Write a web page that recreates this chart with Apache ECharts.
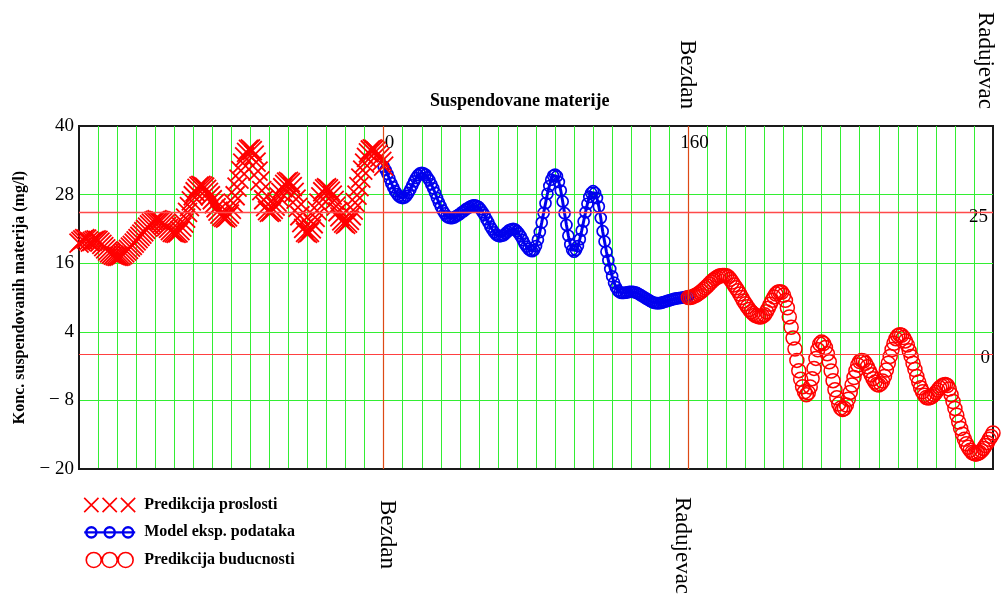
<!DOCTYPE html>
<html>
<head>
<meta charset="utf-8">
<script src="https://cdn.jsdelivr.net/npm/echarts@6/dist/echarts.min.js"></script>
<style>html,body{margin:0;padding:0;background:#fff}#c{width:1003px;height:604px}</style>
</head>
<body>
<div id="c"></div>
<script>
// ---------------- data ----------------
const chartTitle = 'Suspendovane materije';
const yAxisName = 'Konc. suspendovanih materija (mg/l)';
const seriesNames = ['Predikcija proslosti', 'Model eksp. podataka', 'Predikcija buducnosti'];

// x positions: each series starts at its first x, one unit per value
const pastStartX = -160;
const pastValues = [
  19.5,19.8,20.1,20.3,20.2,19.9,19.7,19.8,20.0,20.1,20.0,19.7,19.3,18.9,18.5,18.1,17.8,17.6,17.4,17.3,17.2,17.2,
  17.3,17.5,17.8,18.1,18.4,18.8,19.1,19.5,19.9,20.3,20.7,21.1,21.5,21.9,22.3,22.7,23.0,23.3,23.5,23.6,
  23.5,23.4,23.1,22.8,22.4,22.1,21.7,21.4,21.3,21.2,
  21.3,21.7,22.3,23.0,23.9,24.9,25.9,26.9,27.8,28.5,29.1,29.5,29.6,
  29.5,29.3,28.9,28.4,27.8,27.1,26.4,25.7,25.1,24.6,24.2,24.0,23.9,
  24.1,24.6,25.4,26.5,27.8,29.3,30.7,32.2,33.5,34.6,35.4,35.9,36.0,
  35.7,34.9,33.7,32.1,30.4,28.7,27.1,25.9,25.2,24.9,
  25.0,25.4,26.0,26.7,27.6,28.4,29.2,29.8,30.2,30.3,
  30.1,29.4,28.4,27.2,25.75,24.3,23.1,22.1,21.4,21.2,
  21.4,22.0,22.9,24.0,25.2,26.5,27.6,28.5,29.0,29.2,
  29.0,28.6,27.9,27.0,26.0,25.0,24.1,23.4,23.0,22.8,
  23.0,23.5,24.3,25.3,26.6,27.9,29.4,30.9,32.3,33.5,34.5,35.3,35.8,36.0,
  35.9,35.6,35.1,34.5,33.8,33.0
];

const modelStartX = 0;
const modelValues = [
  32.9,32.3,31.6,30.8,30.0,29.3,28.6,28.1,27.7,27.5,27.4,
  27.5,27.8,28.3,28.9,29.6,30.3,30.9,31.4,31.7,31.8,
  31.7,31.5,31.0,30.5,29.8,29.1,28.3,27.4,26.6,25.9,25.2,24.7,24.2,24.0,23.9,
  23.9,24.0,24.2,24.4,24.6,24.9,25.1,25.4,25.6,25.8,26.0,26.1,26.1,
  26.0,25.8,25.4,24.9,24.4,23.7,23.1,22.4,21.9,21.4,21.0,20.8,20.7,
  20.8,20.9,21.2,21.5,21.8,21.9,22.0,
  21.9,21.6,21.2,20.7,20.05,19.4,18.9,18.5,18.2,18.1,
  18.3,19.0,20.1,21.45,23.1,24.8,26.5,28.15,29.5,30.6,31.3,31.5,
  31.2,30.2,28.7,26.8,24.75,22.7,20.8,19.3,18.3,18.0,
  18.3,19.0,20.2,21.7,23.3,24.9,26.4,27.6,28.3,28.6,
  28.3,27.4,25.9,23.9,21.6,19.8,18.0,16.5,15.0,13.7,12.6,11.8,11.2,10.9,10.8,
  10.8,10.85,10.9,11.0,11.0,11.0,10.9,10.8,10.6,10.4,10.2,10.0,9.8,9.6,9.4,9.2,9.1,9.0,9.0,9.0,
  9.1,9.2,9.3,9.4,9.5,9.6,9.7,9.8,9.85,9.9,9.95,10.0,10.05,10.1,10.2
];

const futureStartX = 160;
const futureValues = [
  10.0,10.0,10.1,10.25,10.4,10.6,10.85,11.1,11.4,11.7,12.0,12.35,12.7,13.0,13.3,13.5,13.7,13.8,13.85,13.85,
  13.8,13.6,13.2,12.7,12.2,11.7,11.2,10.6,10.0,9.4,8.9,8.4,7.9,7.5,7.2,6.9,6.75,6.65,6.6,
  6.7,7.0,7.5,8.1,8.8,9.5,10.1,10.6,10.9,11.0,
  10.9,10.4,9.5,8.2,6.6,4.8,2.9,1.0,-1.0,-2.8,-4.3,-5.6,-6.5,-7.0,
  -6.65,-5.65,-4.2,-2.4,-0.65,0.85,1.85,2.2,
  1.95,1.25,0.15,-1.25,-2.85,-4.55,-6.15,-7.55,-8.65,-9.35,-9.6,
  -9.4,-8.8,-7.8,-6.6,-5.3,-4.0,-2.8,-1.8,-1.2,-1.0,
  -1.1,-1.5,-2.1,-2.8,-3.5,-4.2,-4.8,-5.2,-5.3,
  -5.1,-4.6,-3.8,-2.7,-1.5,-0.3,0.9,2.0,2.8,3.3,3.5,
  3.4,3.0,2.4,1.7,0.7,-0.3,-1.5,-2.6,-3.8,-4.8,-5.8,-6.5,-7.1,-7.5,-7.6,
  -7.5,-7.3,-7.0,-6.6,-6.2,-5.8,-5.5,-5.3,-5.2,
  -5.4,-6.0,-7.0,-8.2,-9.4,-10.6,-11.8,-12.9,-13.9,-14.8,-15.6,-16.2,-16.7,-17.1,-17.3,-17.4,
  -17.3,-17.1,-16.8,-16.4,-15.9,-15.4,-14.8,-14.3,-13.7
];

// reference lines and their labels
const refLineX = [0, 160];
const refLineY = [25, 0];
const topPlaceNames = ['Bezdan', 'Radujevac'];
const topPlaceX = [160, 320];
const bottomPlaceNames = ['Bezdan', 'Radujevac'];
const bottomPlaceX = [0, 160];

// axis ranges
const xMin = -160, xMax = 320, xStep = 10;
const yMin = -20, yMax = 40, yStep = 12;

// ---------------- chart ----------------
const serif = "'Liberation Serif', 'Times New Roman', serif";
const toPairs = (start, vals) => vals.map((v, i) => [start + i, v]);

const crossPath = 'path://M0,0L10,10M10,0L0,10';
const crossIcon = 'path://M0,0L14,14M14,0L0,14M18,0L32,14M32,0L18,14M36,0L50,14M50,0L36,14';
const blueIcon = 'path://M0,0M50,14M0,7L50,7M2,7A5,5,0,1,1,12,7A5,5,0,1,1,2,7ZM20,7A5,5,0,1,1,30,7A5,5,0,1,1,20,7ZM38,7A5,5,0,1,1,48,7A5,5,0,1,1,38,7Z';
const circleIcon = 'path://M0,8A8,8,0,1,1,16,8A8,8,0,1,1,0,8ZM17,8A8,8,0,1,1,33,8A8,8,0,1,1,17,8ZM34,8A8,8,0,1,1,50,8A8,8,0,1,1,34,8Z';

const green = '#33ee33';
const chart = echarts.init(document.getElementById('c'));

const option = {
  animation: false,
  backgroundColor: '#ffffff',
  title: {
    text: chartTitle, left: 430, top: 92, padding: 0,
    textStyle: { fontFamily: serif, fontSize: 18, fontWeight: 'bold', color: '#000' }
  },
  grid: {
    left: 79, right: 10, top: 126, bottom: 135,
    show: true, borderColor: '#1a1a1a', borderWidth: 2, backgroundColor: 'transparent'
  },
  xAxis: {
    type: 'value', min: xMin, max: xMax, interval: xStep,
    axisLine: { show: true, onZero: false, lineStyle: { color: '#1a1a1a', width: 2 } },
    axisTick: { show: false },
    axisLabel: { show: false },
    splitLine: { show: true, showMinLine: false, showMaxLine: false, lineStyle: { color: green, width: 1 } }
  },
  yAxis: {
    type: 'value', min: yMin, max: yMax, interval: yStep,
    name: yAxisName, nameLocation: 'middle', nameGap: 51, nameRotate: 90,
    nameTextStyle: { fontFamily: serif, fontSize: 16, fontWeight: 'bold', color: '#000' },
    axisLine: { show: true, onZero: false, lineStyle: { color: '#1a1a1a', width: 2 } },
    axisTick: { show: false },
    axisLabel: {
      margin: 5, fontFamily: serif, fontSize: 19, color: '#000',
      formatter: v => (v < 0 ? '\u2212 ' + Math.abs(v) : String(v))
    },
    splitLine: { show: true, showMinLine: false, showMaxLine: false, lineStyle: { color: green, width: 1 } }
  },
  legend: {
    orient: 'vertical', left: 83, top: 497, padding: 0,
    itemWidth: 51, itemHeight: 15, itemGap: 11,
    selectedMode: false,
    textStyle: { fontFamily: serif, fontSize: 16, fontWeight: 'bold', color: '#000', padding: [0, 0, 0, 4] },
    data: [
      { name: seriesNames[0], icon: crossIcon, itemStyle: { color: 'rgba(0,0,0,0)', borderColor: '#ff0000', borderWidth: 1.6 } },
      { name: seriesNames[1], icon: blueIcon, itemStyle: { color: 'rgba(0,0,0,0)', borderColor: '#0000ee', borderWidth: 2.4 } },
      { name: seriesNames[2], icon: circleIcon, itemStyle: { color: 'rgba(0,0,0,0)', borderColor: '#ff0000', borderWidth: 1.6 } }
    ]
  },
  series: [
    {
      name: seriesNames[0], type: 'scatter',
      data: toPairs(pastStartX, pastValues),
      symbol: crossPath, symbolSize: 19,
      itemStyle: { color: 'rgba(0,0,0,0)', borderColor: '#ff0000', borderWidth: 1.8, opacity: 1 },
      emphasis: { disabled: true }, z: 3
    },
    {
      name: seriesNames[1], type: 'line',
      data: toPairs(modelStartX, modelValues),
      showSymbol: true, showAllSymbol: true, symbol: 'circle', symbolSize: 11,
      itemStyle: { color: 'rgba(0,0,0,0)', borderColor: '#0000ee', borderWidth: 1.7 },
      lineStyle: { color: '#0000ee', width: 3 },
      emphasis: { disabled: true }, z: 2,
      markLine: {
        silent: true, symbol: 'none', label: { show: false },
        data: [
          { xAxis: refLineX[0], lineStyle: { color: '#dd4a14', width: 1.2, type: 'solid' } },
          { xAxis: refLineX[1], lineStyle: { color: '#dd4a14', width: 1.2, type: 'solid' } },
          { yAxis: refLineY[0], lineStyle: { color: '#ff4a4a', width: 1.4, type: 'solid' } },
          { yAxis: refLineY[1], lineStyle: { color: '#ff4040', width: 1.2, type: 'solid' } }
        ]
      }
    },
    {
      name: seriesNames[2], type: 'scatter',
      data: toPairs(futureStartX, futureValues),
      symbol: 'circle', symbolSize: 14,
      itemStyle: { color: 'rgba(0,0,0,0)', borderColor: '#ff0000', borderWidth: 1.5, opacity: 1 },
      emphasis: { disabled: true }, z: 4
    }
  ]
};
chart.setOption(option);

// text annotations placed via the chart's own scales
const px = (x, y) => chart.convertToPixel({ gridIndex: 0 }, [x, y]);
const placeFont = '23px ' + serif;
const tickFont = '19px ' + serif;
const g = [];
const topDx = [-1.5, -8];
topPlaceX.forEach((x, i) => {
  const p = px(x, 0);
  g.push({ type: 'text', x: p[0] + topDx[i], y: 109, rotation: -Math.PI / 2,
    style: { text: topPlaceNames[i], font: placeFont, fill: '#000', align: 'right', verticalAlign: 'middle' } });
});
const botDx = [3, -6];
const botY = [500, 497];
bottomPlaceX.forEach((x, i) => {
  const p = px(x, 0);
  g.push({ type: 'text', x: p[0] + botDx[i], y: botY[i], rotation: -Math.PI / 2,
    style: { text: bottomPlaceNames[i], font: placeFont, fill: '#000', align: 'left', verticalAlign: 'middle' } });
});
const vlDx = [1, -8];
refLineX.forEach((x, i) => {
  const p = px(x, yMax);
  g.push({ type: 'text', x: p[0] + vlDx[i], y: p[1] + 17,
    style: { text: String(x), font: tickFont, fill: '#000', align: 'left', verticalAlign: 'middle' } });
});
const hlDx = [-5, -3];
const hlDy = [5, 3];
refLineY.forEach((y, i) => {
  const p = px(xMax, y);
  g.push({ type: 'text', x: p[0] + hlDx[i], y: p[1] + hlDy[i],
    style: { text: String(y), font: tickFont, fill: '#000', align: 'right', verticalAlign: 'middle' } });
});
chart.setOption({ graphic: { elements: g } });
</script>
</body>
</html>
